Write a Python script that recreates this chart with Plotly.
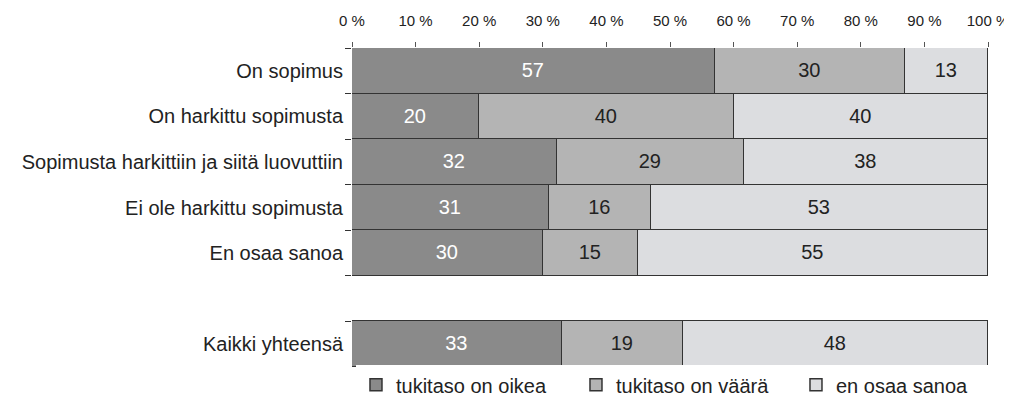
import plotly.graph_objects as go

categories = ["On sopimus", "On harkittu sopimusta",
              "Sopimusta harkittiin ja siitä luovuttiin",
              "Ei ole harkittu sopimusta", "En osaa sanoa", " ",
              "Kaikki yhteensä"]
oikea = [57, 20, 32.3, 31, 30, None, 33]
vaara = [30, 40, 29.4, 16, 15, None, 19]
eos = [13, 40, 38.3, 53, 55, None, 48]
series_names = ["tukitaso on oikea", "tukitaso on väärä", "en osaa sanoa"]
tick_vals = [0, 10, 20, 30, 40, 50, 60, 70, 80, 90, 100]
tick_text = ["0 %", "10 %", "20 %", "30 %", "40 %", "50 %", "60 %", "70 %", "80 %", "90 %", "100 %"]

colors = ["#8a8a8a", "#b4b4b4", "#dcdde0"]
text_colors = ["white", "#222222", "#222222"]
font_family = "Liberation Sans, Arial"

fig = go.Figure()
for name, vals, col, tcol in zip(series_names, [oikea, vaara, eos], colors, text_colors):
    fig.add_trace(go.Bar(
        y=categories, x=vals, name=name, orientation="h",
        marker=dict(color=col, line=dict(color="#333333", width=1.5)),
        texttemplate="%{x:.0f}", textposition="inside", insidetextanchor="middle",
        textfont=dict(color=tcol, size=20, family=font_family),
        hoverinfo="skip",
    ))

# the page body has an 8px margin, so the figure is 8px smaller than the window
fig.update_layout(
    barmode="stack", bargap=0,
    width=1004, height=393,
    margin=dict(l=344, r=24, t=40, b=34, autoexpand=False),
    paper_bgcolor="white", plot_bgcolor="white",
    font=dict(family=font_family, color="#222222", size=20),
    showlegend=True,
    # anchored right of the plot area so the legend may be wider than the plot
    legend=dict(orientation="h", x=1.044, xanchor="right", y=-0.056, yanchor="middle",
                font=dict(size=20), entrywidth=175, traceorder="normal"),
    uniformtext=dict(mode="show", minsize=10),
)
fig.update_xaxes(side="top", range=[0, 100], tickvals=tick_vals, ticktext=tick_text,
                 ticks="outside", ticklen=5, tickcolor="#555555", ticklabelstandoff=10,
                 tickfont=dict(size=15), showgrid=False, zeroline=False, showline=False,
                 automargin=False)
fig.update_yaxes(categoryorder="array", categoryarray=categories, autorange="reversed",
                 ticks="outside", tickson="boundaries", ticklen=6, tickcolor="#333333",
                 ticklabelstandoff=8,
                 tickfont=dict(size=20), showgrid=False, showline=False, zeroline=False,
                 automargin=False)

fig.write_html("out.html")
